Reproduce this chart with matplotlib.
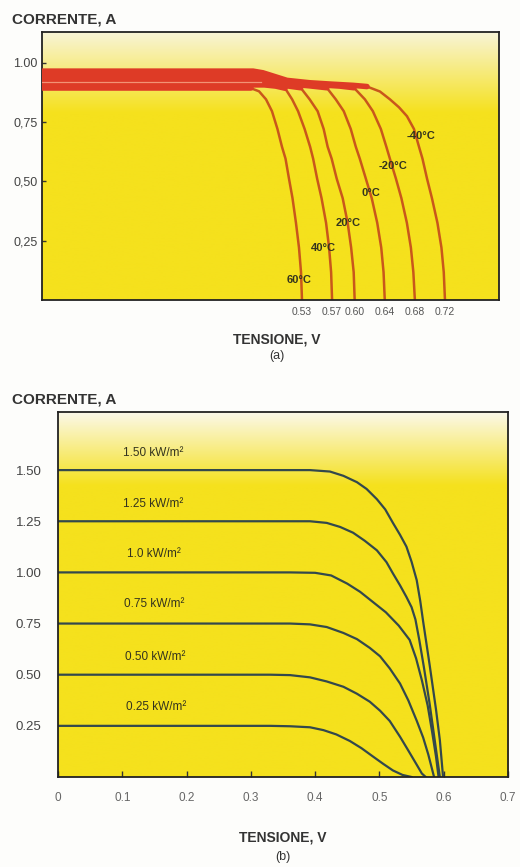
import numpy as np
import matplotlib
matplotlib.use('Agg')
import matplotlib.pyplot as plt
from matplotlib.colors import LinearSegmentedColormap

plt.rcParams['font.family'] = ['Liberation Sans', 'DejaVu Sans']

# (a) I-V curves of one cell at different temperatures
temp_labels = ['60°C', '40°C', '20°C', '0°C', '-20°C', '-40°C']
voc_ticks = [0.53, 0.57, 0.60, 0.64, 0.68, 0.72]
voc_tick_labels = ['0.53', '0.57', '0.60', '0.64', '0.68', '0.72']

v_60 = [0.18, 0.462, 0.4729, 0.4822, 0.4901, 0.4974, 0.5034, 0.5081, 0.5127, 0.5174, 0.522, 0.526, 0.5287, 0.530]
i_60 = [0.893, 0.893, 0.880, 0.846, 0.796, 0.721, 0.646, 0.596, 0.512, 0.429, 0.325, 0.221, 0.117, 0.0]

v_40 = [0.18, 0.48, 0.495, 0.5075, 0.5169, 0.5248, 0.5335, 0.5408, 0.5448, 0.5501, 0.556, 0.562, 0.566, 0.5687, 0.570]
i_40 = [0.907, 0.907, 0.902, 0.893, 0.846, 0.796, 0.721, 0.646, 0.596, 0.512, 0.429, 0.325, 0.221, 0.117, 0.0]

v_20 = [0.18, 0.475, 0.495, 0.51, 0.5282, 0.5402, 0.5508, 0.5588, 0.5641, 0.5694, 0.5761, 0.5841, 0.5907, 0.5953, 0.5987, 0.600]
i_20 = [0.921, 0.921, 0.912, 0.903, 0.895, 0.846, 0.796, 0.721, 0.646, 0.596, 0.512, 0.429, 0.325, 0.221, 0.117, 0.0]

v_0 = [0.18, 0.47, 0.49, 0.51, 0.54, 0.5629, 0.5749, 0.5855, 0.5948, 0.6015, 0.6068, 0.6148, 0.6227, 0.630, 0.6353, 0.6384, 0.640]
i_0 = [0.935, 0.935, 0.925, 0.912, 0.903, 0.895, 0.846, 0.796, 0.721, 0.646, 0.596, 0.512, 0.429, 0.325, 0.221, 0.117, 0.0]

v_m20 = [0.18, 0.465, 0.49, 0.51, 0.55, 0.58, 0.599, 0.6136, 0.6242, 0.6348, 0.6421, 0.6468, 0.6548, 0.6621, 0.6694, 0.6747, 0.678, 0.680]
i_m20 = [0.95, 0.95, 0.935, 0.918, 0.908, 0.902, 0.895, 0.846, 0.796, 0.721, 0.646, 0.596, 0.512, 0.429, 0.325, 0.221, 0.117, 0.0]

v_m40 = [0.18, 0.465, 0.478, 0.494, 0.51, 0.54, 0.57, 0.598, 0.6164, 0.6336, 0.6469, 0.6589, 0.6695, 0.6788,
         0.6855, 0.6901, 0.6961, 0.7027, 0.710, 0.7153, 0.7184, 0.720]
i_m40 = [0.965, 0.965, 0.958, 0.942, 0.926, 0.916, 0.910, 0.905, 0.900, 0.879, 0.846, 0.8125, 0.775, 0.721,
         0.646, 0.596, 0.5125, 0.429, 0.325, 0.221, 0.117, 0.0]

# where each temperature label sits (V, I)
temp_label_v = [0.526, 0.559, 0.591, 0.621, 0.651, 0.688]
temp_label_i = [0.083, 0.221, 0.325, 0.45, 0.567, 0.692]

ya_ticks = [0.25, 0.50, 0.75, 1.00]
ya_tick_labels = ['0,25', '0,50', '0,75', '1.00']

# (b) I-V curves at different irradiance
irr_labels = ['1.50 kW/m²', '1.25 kW/m²', '1.0 kW/m²', '0.75 kW/m²', '0.50 kW/m²', '0.25 kW/m²']
irr_label_v = [0.101, 0.101, 0.108, 0.103, 0.104, 0.105]
irr_label_i = [1.585, 1.335, 1.09, 0.845, 0.585, 0.34]

v_150 = [0, 0.361, 0.392, 0.423, 0.444, 0.465, 0.48, 0.496, 0.509, 0.521, 0.532, 0.542, 0.55, 0.558,
         0.5635, 0.568, 0.578, 0.588, 0.594, 0.599]
i_150 = [1.50, 1.50, 1.50, 1.493, 1.472, 1.441, 1.408, 1.358, 1.308, 1.242, 1.184, 1.126, 1.052, 0.962,
         0.86, 0.76, 0.55, 0.33, 0.18, 0.0]
v_125 = [0, 0.361, 0.392, 0.418, 0.439, 0.459, 0.477, 0.496, 0.511, 0.521, 0.532, 0.542, 0.55, 0.556,
         0.562, 0.569, 0.578, 0.586, 0.594]
i_125 = [1.25, 1.25, 1.25, 1.242, 1.222, 1.194, 1.155, 1.108, 1.05, 0.995, 0.937, 0.88, 0.83, 0.77,
         0.67, 0.54, 0.36, 0.18, 0.0]
v_100 = [0, 0.361, 0.40, 0.425, 0.45, 0.47, 0.49, 0.51, 0.53, 0.547, 0.557, 0.566, 0.575, 0.582, 0.588, 0.592]
i_100 = [1.00, 1.00, 0.998, 0.985, 0.945, 0.905, 0.855, 0.805, 0.74, 0.67, 0.58, 0.473, 0.35, 0.22, 0.10, 0.0]
v_075 = [0, 0.361, 0.392, 0.418, 0.444, 0.465, 0.485, 0.501, 0.516, 0.532, 0.545, 0.558, 0.568, 0.576, 0.585]
i_075 = [0.75, 0.75, 0.746, 0.733, 0.704, 0.674, 0.631, 0.59, 0.531, 0.457, 0.374, 0.275, 0.193, 0.11, 0.0]
v_050 = [0, 0.33, 0.361, 0.392, 0.418, 0.444, 0.465, 0.485, 0.501, 0.516, 0.532, 0.545, 0.558, 0.566, 0.572]
i_050 = [0.50, 0.50, 0.498, 0.487, 0.467, 0.441, 0.407, 0.368, 0.324, 0.274, 0.197, 0.129, 0.06, 0.017, 0.0]
v_025 = [0, 0.33, 0.361, 0.392, 0.413, 0.433, 0.454, 0.472, 0.49, 0.506, 0.521, 0.536, 0.55]
i_025 = [0.25, 0.25, 0.248, 0.243, 0.229, 0.208, 0.176, 0.141, 0.10, 0.064, 0.032, 0.01, 0.0]

yb_ticks = [0.25, 0.50, 0.75, 1.00, 1.25, 1.50]
yb_tick_labels = ['0.25', '0.50', '0.75', '1.00', '1.25', '1.50']
xb_ticks = [0, 0.1, 0.2, 0.3, 0.4, 0.5, 0.6, 0.7]
xb_tick_labels = ['0', '0.1', '0.2', '0.3', '0.4', '0.5', '0.6', '0.7']

YELLOW = '#F5E11D'
TEXT = '#333333'
LABEL = '#34341E'
W, H = 520, 867


def glare(ax, pale, stop):
    """Pale wash at the top of the plot area fading into the yellow."""
    cmap = LinearSegmentedColormap.from_list('glare', [(0, YELLOW), (1 - stop, YELLOW), (1, pale)])
    grad = np.linspace(0, 1, 256).reshape(-1, 1)
    ax.imshow(grad, cmap=cmap, extent=[0, 1, 0, 1], transform=ax.transAxes,
              origin='lower', aspect='auto', zorder=0, interpolation='bicubic')


def frame(ax):
    for s in ax.spines.values():
        s.set_color('#222222')
        s.set_linewidth(1.3)


fig = plt.figure(figsize=(W / 100, H / 100), dpi=100)
fig.patch.set_facecolor('#FDFDFB')

# ---------- panel (a) ----------
ax = fig.add_axes([42 / W, 1 - 300 / H, 457 / W, 268 / H])
ax.set_facecolor(YELLOW)
glare(ax, '#F8F4D6', 0.30)
ax.set_xlim(0.1845, 0.7918)
ax.set_ylim(0.0, 1.13)

curves_a = [(v_60, i_60), (v_40, i_40), (v_20, i_20), (v_0, i_0), (v_m20, i_m20), (v_m40, i_m40)]
for v, i in curves_a:
    ax.plot(v, i, color='#C9571B', lw=1.8, solid_joinstyle='round', zorder=2)
# near short circuit the curves overlap into one thick red band
for v, i in curves_a:
    v = np.array(v)
    i = np.array(i)
    keep = i >= 0.885
    ax.plot(v[keep], i[keep], color='#DE3B26', lw=4.0, solid_capstyle='round',
            solid_joinstyle='round', zorder=3)
ax.plot(v_20[:2], i_20[:2], color='#F29275', lw=0.9, zorder=3)

for lab, x, y in zip(temp_labels, temp_label_v, temp_label_i):
    ax.text(x, y, lab, ha='center', va='center', fontsize=8, fontweight='bold',
            color=LABEL, zorder=4)

ax.set_xticks(voc_ticks)
ax.set_xticklabels(voc_tick_labels)
ax.set_yticks(ya_ticks)
ax.set_yticklabels(ya_tick_labels)
ax.tick_params(axis='x', length=0, pad=5, labelsize=7.5, labelcolor='#555555')
ax.tick_params(axis='y', direction='in', length=3, width=1, color='#333333',
               pad=3, labelsize=9, labelcolor='#444444')
frame(ax)

fig.text(12 / W, 1 - 19 / H, 'CORRENTE, A', ha='left', va='center',
         fontsize=11, fontweight='bold', color=TEXT)
fig.text(277 / W, 1 - 340 / H, 'TENSIONE, V', ha='center', va='center',
         fontsize=10, fontweight='bold', color=TEXT)
fig.text(277 / W, 1 - 356 / H, '(a)', ha='center', va='center', fontsize=9, color=TEXT)

# ---------- panel (b) ----------
bx = fig.add_axes([58 / W, 1 - 777 / H, 450 / W, 365 / H])
bx.set_facecolor(YELLOW)
glare(bx, '#FBF8E8', 0.20)
bx.set_xlim(0, 0.7)
bx.set_ylim(0, 1.784)

curves_b = [(v_150, i_150), (v_125, i_125), (v_100, i_100),
            (v_075, i_075), (v_050, i_050), (v_025, i_025)]
for v, i in curves_b:
    bx.plot(v, i, color='#33484C', lw=1.6, solid_joinstyle='round', zorder=2)

for lab, x, y in zip(irr_labels, irr_label_v, irr_label_i):
    bx.text(x, y, lab, ha='left', va='center', fontsize=8.5, color=LABEL, zorder=4)

bx.set_xticks(xb_ticks)
bx.set_xticklabels(xb_tick_labels)
bx.set_yticks(yb_ticks)
bx.set_yticklabels(yb_tick_labels)
bx.tick_params(axis='x', direction='in', length=4, width=1, color='#333333',
               pad=11, labelsize=8.5, labelcolor='#666666')
bx.tick_params(axis='y', length=0, pad=12, labelsize=9.5, labelcolor='#444444')
frame(bx)

fig.text(12 / W, 1 - 400 / H, 'CORRENTE, A', ha='left', va='center',
         fontsize=11, fontweight='bold', color=TEXT)
fig.text(283 / W, 1 - 838 / H, 'TENSIONE, V', ha='center', va='center',
         fontsize=10, fontweight='bold', color=TEXT)
fig.text(283 / W, 1 - 857 / H, '(b)', ha='center', va='center', fontsize=9, color=TEXT)

fig.savefig('out.png', dpi=100, facecolor=fig.get_facecolor())
